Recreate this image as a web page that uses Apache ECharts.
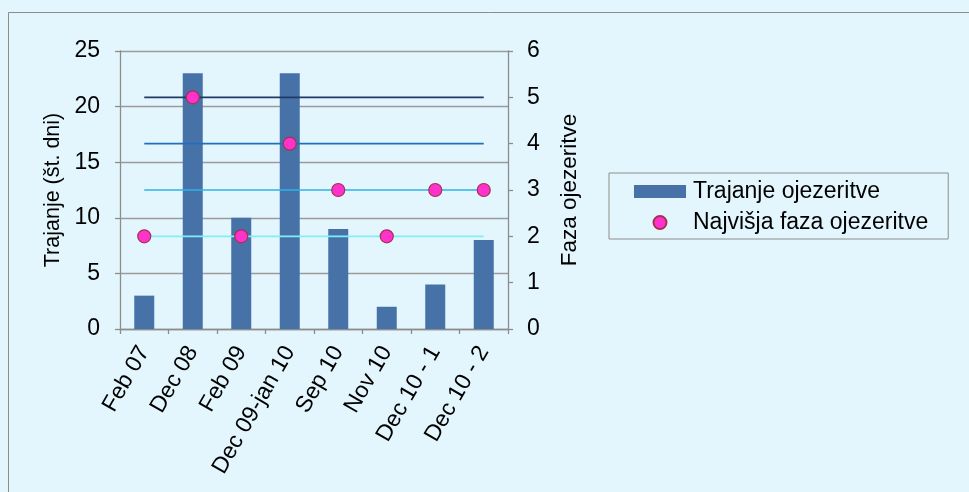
<!DOCTYPE html>
<html>
<head>
<meta charset="utf-8">
<script src="https://cdn.jsdelivr.net/npm/echarts@6/dist/echarts.min.js"></script>
<style>
html,body{margin:0;padding:0;background:#E4F6FD;}
#c{width:969px;height:492px;}
</style>
</head>
<body>
<div id="c"></div>
<script>
const categories = ['Feb 07','Dec 08','Feb 09','Dec 09-jan 10','Sep 10','Nov 10','Dec 10 - 1','Dec 10 - 2'];
const duration = [3, 23, 10, 23, 9, 2, 4, 8];
const phase = [2, 5, 2, 4, 3, 2, 3, 3];
const phaseLevels = [2, 3, 4, 5];
const levelColors = ['#7EEFF7', '#2CB4E6', '#1E70BE', '#1F3A66'];
const leftTicks = {min: 0, max: 25, interval: 5};
const rightTicks = {min: 0, max: 6, interval: 1};

const font = 'Liberation Sans, Arial, sans-serif';
const chart = echarts.init(document.getElementById('c'));

const levelSeries = phaseLevels.map((lv, i) => ({
  type: 'line',
  name: 'level' + lv,
  yAxisIndex: 1,
  data: categories.map(() => lv),
  symbol: 'none',
  lineStyle: {color: levelColors[i], width: 1.6},
  z: 3,
  silent: true,
  animation: false
}));

chart.setOption({
  backgroundColor: '#E4F6FD',
  animation: false,
  textStyle: {fontFamily: font},
  graphic: [{
    type: 'rect',
    shape: {x: 8.5, y: 12.5, width: 1200, height: 800},
    style: {fill: 'none', stroke: '#8C8C8C', lineWidth: 1},
    silent: true, z: -1
  }],
  grid: {left: 120, right: 461, top: 51, bottom: 163},
  legend: {
    left: 609, top: 173,
    orient: 'vertical',
    borderColor: '#8C8C8C', borderWidth: 1,
    padding: [7, 20, 5, 25],
    itemWidth: 52, itemHeight: 13, itemGap: 8,
    textStyle: {fontFamily: font, fontSize: 23, color: '#000', padding: [0, 0, 0, 2]},
    data: [
      {name: 'Trajanje ojezeritve', icon: 'rect'},
      {name: 'Najvišja faza ojezeritve', icon: 'circle'}
    ]
  },
  xAxis: {
    type: 'category',
    data: categories,
    axisLine: {lineStyle: {color: '#8C8C8C', width: 1.3}},
    axisTick: {show: true, length: 5, lineStyle: {color: '#8C8C8C', width: 1.3}},
    axisLabel: {rotate: 60, fontSize: 23, color: '#000', margin: 19, fontFamily: font, interval: 0}
  },
  yAxis: [{
    type: 'value',
    min: leftTicks.min, max: leftTicks.max, interval: leftTicks.interval,
    name: 'Trajanje (št. dni)',
    nameLocation: 'middle', nameGap: 56,
    nameTextStyle: {fontSize: 21.5, color: '#000', fontFamily: font},
    axisLine: {show: true, lineStyle: {color: '#8C8C8C', width: 1.3}},
    axisTick: {show: true, length: 5, lineStyle: {color: '#8C8C8C', width: 1.3}},
    axisLabel: {fontSize: 23, color: '#000', margin: 20, fontFamily: font},
    splitLine: {show: true, lineStyle: {color: '#9A9A9A', width: 1.3}}
  }, {
    type: 'value',
    min: rightTicks.min, max: rightTicks.max, interval: rightTicks.interval,
    name: 'Faza ojezeritve',
    nameLocation: 'middle', nameGap: 50,
    nameTextStyle: {fontSize: 22.5, color: '#000', fontFamily: font},
    axisLine: {show: true, lineStyle: {color: '#8C8C8C', width: 1.3}},
    axisTick: {show: true, length: 5, lineStyle: {color: '#8C8C8C', width: 1.3}},
    axisLabel: {fontSize: 23, color: '#000', margin: 19, fontFamily: font},
    splitLine: {show: false}
  }],
  series: [{
    type: 'bar',
    name: 'Trajanje ojezeritve',
    data: duration,
    barWidth: 20,
    itemStyle: {color: '#4672A8'},
    z: 2
  }].concat(levelSeries).concat([{
    type: 'scatter',
    name: 'Najvišja faza ojezeritve',
    yAxisIndex: 1,
    data: phase,
    symbol: 'circle',
    symbolSize: 13,
    itemStyle: {color: '#FF33CC', borderColor: '#A3324F', borderWidth: 1.2, opacity: 1},
    z: 5
  }])
});
</script>
</body>
</html>
